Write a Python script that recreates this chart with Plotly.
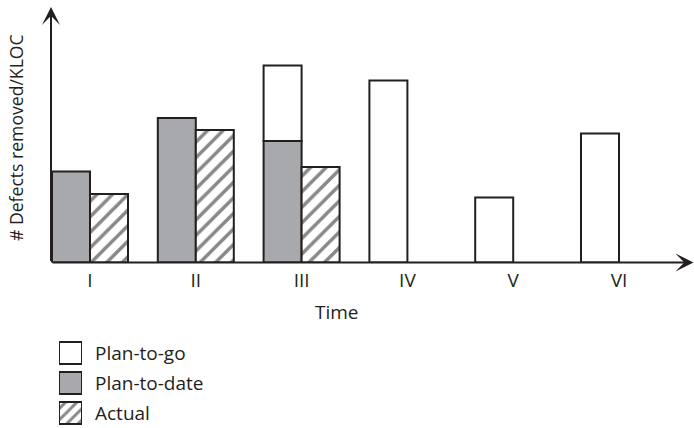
import plotly.graph_objects as go

# Phases of the project and the defect-removal figures per phase
phases = ["I", "II", "III", "IV", "V", "VI"]
phase_pos = [1, 2, 3, 4, 5, 6]

plan_to_date_pos = [1, 2, 3]
plan_to_date = [91, 144.5, 121.5]

actual_pos = [1, 2, 3]
actual = [68.5, 132.5, 95.5]

plan_to_go_pos = [3, 4, 5, 6]
plan_to_go_base = [121.5, 0, 0, 0]
plan_to_go = [75.5, 182, 65, 129]

legend_labels = ["Plan-to-go", "Plan-to-date", "Actual"]

INK = "#231f20"
GREY = "#a7a9ac"
FONT = "Open Sans"
FS = 19

W, H = 694, 428
# pixel geometry of the main plotting area
px_left, px_right = 51, 694
px_base, px_top = 262.5, 7
px_per_unit = 105.8
px_first = 90
bar_w = 38 / px_per_unit

x0 = 1 - (px_first - px_left) / px_per_unit
x1 = 1 + (px_right - px_first) / px_per_unit
y_top = px_base - px_top

line = dict(color=INK, width=2)
hatch = dict(shape="/", fgcolor="#111111", bgcolor="white", size=11, solidity=0.32)

fig = go.Figure()

fig.add_bar(x=plan_to_date_pos, y=plan_to_date, offset=-bar_w, width=bar_w,
            marker=dict(color=GREY, line=line), name="Plan-to-date")
fig.add_bar(x=plan_to_go_pos, y=plan_to_go, base=plan_to_go_base,
            offset=-bar_w, width=bar_w,
            marker=dict(color="white", line=line), name="Plan-to-go")
fig.add_bar(x=actual_pos, y=actual, offset=0, width=bar_w,
            marker=dict(color="white", line=line, pattern=hatch),
            name="Actual")

# legend swatches drawn as bars on a small auxiliary axis
lg_top, lg_bottom = 341, 425
row_h, row_pitch = 22, 30
swatch_styles = [
    dict(color="white", line=line),
    dict(color=GREY, line=line),
    dict(color="white", line=line,
         pattern=dict(shape="/", fgcolor="#111111", bgcolor="white", size=8, solidity=0.36)),
]
for i, (lab, st) in enumerate(zip(legend_labels, swatch_styles)):
    base = (lg_bottom - lg_top) - (i * row_pitch + row_h) - 1
    fig.add_bar(x=[0], y=[row_h], base=[base], width=1, marker=st,
                xaxis="x2", yaxis="y2", showlegend=False, name=lab)
    yc = lg_top + 1 + i * row_pitch + row_h / 2
    fig.add_annotation(text=lab, xref="paper", yref="paper",
                       x=93 / W, y=(H - yc) / H, xanchor="left", yanchor="middle",
                       showarrow=False, font=dict(family=FONT, size=FS, color=INK))

# axes with arrowheads
arrow = dict(text="", showarrow=True, arrowhead=3, arrowsize=1.5, arrowwidth=2,
             arrowcolor=INK, standoff=0, xref="x", yref="y", axref="x", ayref="y")
fig.add_annotation(x=x0, y=y_top, ax=x0, ay=0, **arrow)
fig.add_annotation(x=x1 - 0.005, y=0, ax=x0, ay=0, **arrow)

# axis titles
fig.add_annotation(text="# Defects removed/KLOC", textangle=-90, xref="paper", yref="paper",
                   x=16 / W, y=(H - 138) / H, xanchor="center", yanchor="middle",
                   showarrow=False, font=dict(family=FONT, size=17.6, color=INK))
fig.add_annotation(text="Time", xref="paper", yref="paper",
                   x=337 / W, y=(H - 312) / H, xanchor="center", yanchor="middle",
                   showarrow=False, font=dict(family=FONT, size=FS, color=INK))

fig.update_layout(
    width=W, height=H, margin=dict(l=0, r=0, t=0, b=0),
    plot_bgcolor="white", paper_bgcolor="white",
    barmode="overlay", showlegend=False,
    font=dict(family=FONT, size=FS, color=INK),
    xaxis=dict(domain=[px_left / W, 1], range=[x0, x1], tickvals=phase_pos, ticktext=phases,
               showgrid=False, zeroline=False, showline=False, ticks="",
               ticklabelstandoff=4, tickfont=dict(family=FONT, size=FS, color=INK),
               fixedrange=True),
    yaxis=dict(domain=[(H - px_base) / H, (H - px_top) / H], range=[0, y_top],
               showgrid=False, zeroline=False, showline=False, showticklabels=False,
               ticks="", fixedrange=True),
    xaxis2=dict(domain=[59 / W, 82 / W], range=[-0.5, 0.5], anchor="y2", visible=False),
    yaxis2=dict(domain=[(H - lg_bottom) / H, (H - lg_top) / H],
                range=[0, lg_bottom - lg_top], anchor="x2", visible=False),
)

fig.write_html("out.html")
